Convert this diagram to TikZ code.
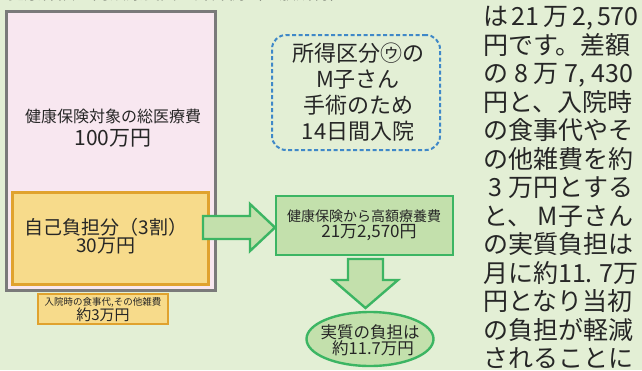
\documentclass[tikz,border=0pt]{standalone}
\usepackage{fontspec}
\setmainfont{Noto Sans CJK JP}
\usetikzlibrary{shapes.geometric}
\definecolor{bgc}{HTML}{E3EFD5}
\definecolor{pinkc}{HTML}{F8E7F0}
\definecolor{grayc}{HTML}{7A7A7A}
\definecolor{orfill}{HTML}{F7DB8B}
\definecolor{ordraw}{HTML}{E0A22E}
\definecolor{grfill}{HTML}{C3E0AC}
\definecolor{grdraw}{HTML}{3CB563}
\definecolor{bluec}{HTML}{3F88C8}
\definecolor{txt}{HTML}{262626}
\newcommand{\fs}[2]{\fontsize{#1}{#2}\selectfont}
\newcommand{\jl}[1]{\makebox[150pt][s]{#1}}
\tikzset{
  lbl/.style={inner sep=0pt, text=txt, align=center},
  coltext/.style={inner sep=0pt, text=txt, anchor=base west, font=\fs{25}{28.5}},
  orbox/.style={draw=ordraw, fill=orfill, line width=3pt, inner sep=0pt},
  grbox/.style={draw=grdraw, fill=grfill, line width=2.6pt, inner sep=0pt},
  fatarrow/.style={draw=grdraw, fill=grfill, line width=2.4pt, line join=miter},
}
\begin{document}
\begin{tikzpicture}[x=1pt,y=-1pt]
\fill[bgc] (0,0) rectangle (642,370);
\useasboundingbox (0,0) rectangle (642,370);
\clip (0,0) rectangle (642,370);

% clipped header
\node[coltext, font=\fs{17}{20}] (head) at (7,-1) {健康保険の高額療養費の計算例（一般所得）};

% total box
\node[draw=grayc, fill=pinkc, line width=3pt, minimum width=209pt, minimum height=279pt, inner sep=0pt] (total) at (110.5,150.5) {};
\node[lbl, font=\fs{16}{19}] (totallbl) at (113,116) {健康保険対象の総医療費};
\node[lbl, font=\fs{21}{24}] (totalamt) at (113,138) {100万円};

% self-pay box
\node[orbox, minimum width=196pt, minimum height=92pt] (self) at (110,238) {};
\node[lbl, font=\fs{19}{18.5}] (selflbl) at (106,236) {自己負担分（3割）\\30万円};

% meals box
\node[orbox, line width=2.4pt, minimum width=130pt, minimum height=30pt] (meals) at (103,309) {};
\node[lbl, font=\fs{9.5}{11}] (mealslbl) at (103,302.5) {入院時の食事代,その他雑費};
\node[lbl, font=\fs{15}{16}] (mealsamt) at (103,315) {約3万円};

% dashed info box
\node[draw=bluec, dash pattern=on 4pt off 2.5pt, line width=2pt, rounded corners=14pt, minimum width=168pt, minimum height=115pt, inner sep=0pt] (info) at (356,92.5) {};
\node[lbl, font=\fs{22}{26}] (infolbl) at (358,92) {所得区分㋒の\\M子さん\\手術のため\\14日間入院};

% kogaku box
\node[grbox, minimum width=177pt, minimum height=59pt] (kogaku) at (364.5,225.5) {};
\node[lbl, font=\fs{14}{16}] (kogakulbl) at (364,216) {健康保険から高額療養費};
\node[lbl, font=\fs{17}{18}] (kogakuamt) at (369,232.5) {21万2,570円};

% right fat arrow
\draw[fatarrow] (203,216) -- (250,216) -- (250,204) -- (275,227.5) -- (250,251) -- (250,239) -- (203,239) -- cycle;

% down fat arrow
\draw[fatarrow] (348,259) -- (383,259) -- (383,280) -- (398,280) -- (365.5,308) -- (333,280) -- (348,280) -- cycle;

% result ellipse
\node[ellipse, draw=grdraw, fill=grfill, line width=2.4pt, minimum width=127pt, minimum height=54pt, inner sep=0pt] (result) at (370,339) {};
\node[lbl, font=\fs{16.5}{16.5}] (resultlbl) at (370,340) {実質の負担は\\\hspace{6pt}約11.7万円};

% right column text
\node[coltext] (r1) at (483,25.5) {\jl{は 21 万 2, 570}};
\node[coltext] (r2) at (483,54) {\jl{円です。差額}};
\node[coltext] (r3) at (483,82.5) {\jl{の 8 万 7, 430}};
\node[coltext] (r4) at (483,111) {\jl{円と、入院時}};
\node[coltext] (r5) at (483,139.5) {\jl{の食事代やそ}};
\node[coltext] (r6) at (483,168) {\jl{の他雑費を約}};
\node[coltext] (r7) at (483,196.5) {\jl{\hspace{5pt}3 万円とする}};
\node[coltext] (r8) at (483,225) {\jl{と、 M子さん}};
\node[coltext] (r9) at (483,253.5) {\jl{の実質負担は}};
\node[coltext] (r10) at (483,282) {\jl{月に約11. 7万}};
\node[coltext] (r11) at (483,310.5) {\jl{円となり当初}};
\node[coltext] (r12) at (483,339) {\jl{の負担が軽減}};
\node[coltext] (r13) at (483,367.5) {\jl{されることに}};
\end{tikzpicture}
\end{document}
